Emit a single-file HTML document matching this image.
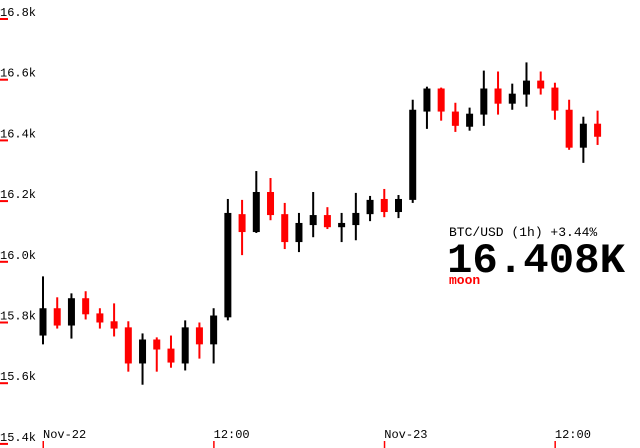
<!DOCTYPE html>
<html><head><meta charset="utf-8"><style>
html,body{margin:0;padding:0;background:#fff;}
svg{display:block;}
text{font-family:"Liberation Mono",monospace;}
</style></head><body>
<svg id="chart" width="640" height="448" viewBox="0 0 640 448" xmlns="http://www.w3.org/2000/svg">
<g id="yaxis"></g>
<g id="xaxis"></g>
<g id="candles"></g>
<text x="449" y="236" font-size="13" fill="#000">BTC/USD (1h) +3.44%</text>
<text x="447" y="272" font-size="42" font-weight="bold" fill="#000" textLength="178" lengthAdjust="spacingAndGlyphs">16.408K</text>
<text x="449" y="284" font-size="13" font-weight="bold" fill="#f00">moon</text>
</svg>
<script>
const opens  = [15757,15847,15790,15880,15830,15804,15784,15665,15744,15714,15665,15784,15728,15817,16157,16098,16230,16157,16065,16121,16154,16114,16121,16157,16207,16164,16204,16495,16571,16495,16445,16485,16571,16521,16551,16597,16574,16501,16376,16455];
const closes = [15847,15790,15880,15827,15800,15780,15665,15744,15711,15668,15784,15728,15823,16161,16098,16230,16154,16065,16128,16154,16114,16128,16161,16204,16164,16207,16501,16571,16495,16448,16488,16571,16521,16554,16597,16571,16498,16376,16455,16412];
const highs  = [15952,15883,15896,15903,15847,15863,15804,15764,15751,15757,15807,15800,15847,16207,16204,16299,16276,16194,16161,16230,16180,16161,16227,16217,16240,16220,16534,16577,16574,16524,16508,16630,16627,16587,16657,16627,16590,16534,16478,16498];
const lows   = [15728,15780,15747,15810,15780,15754,15638,15595,15638,15651,15642,15681,15665,15807,16022,16095,16137,16042,16032,16081,16108,16065,16071,16134,16147,16144,16194,16438,16465,16428,16432,16448,16485,16501,16511,16551,16468,16369,16326,16385];
const yTicks = [15400,15600,15800,16000,16200,16400,16600,16800];
const yTickLabels = ["15.4k","15.6k","15.8k","16.0k","16.2k","16.4k","16.6k","16.8k"];
const xTickIdx = [0,12,24,36];
const xTickLabels = ["Nov-22","12:00","Nov-23","12:00"];

const NS="http://www.w3.org/2000/svg";
function y(v){return 19+(16800-v)*0.3035;}
function x(i){return 43+i*14.22;}
function mk(tag,attrs,parent){const e=document.createElementNS(NS,tag);for(const k in attrs)e.setAttribute(k,attrs[k]);parent.appendChild(e);return e;}

const ya=document.getElementById('yaxis');
yTicks.forEach((v,i)=>{
  const t=mk('text',{x:0,y:y(v)-3,'font-size':12,fill:'#000'},ya);
  t.textContent=yTickLabels[i];
  
  
  const l=mk('rect',{x:0,y:y(v)-1,width:8,height:2,fill:'#f00'},ya);
  
  
});
const xa=document.getElementById('xaxis');
xTickIdx.forEach((idx,i)=>{
  const t=mk('text',{x:x(idx),y:438,'font-size':12,fill:'#000'},xa);
  t.textContent=xTickLabels[i];
  
  
  const l=mk('rect',{x:x(idx)-0.5,y:441,width:1.5,height:7,fill:'#f00'},xa);
  
  
});
const cg=document.getElementById('candles');
opens.forEach((o,i)=>{
  const c=closes[i],up=c>=o,col=up?'#000':'#f00';
  const g=mk('g',{},cg);
  
  
  mk('rect',{x:x(i)-1,y:y(highs[i]),width:2,height:y(lows[i])-y(highs[i]),fill:col},g);
  const top=y(Math.max(o,c)),bot=y(Math.min(o,c));
  mk('rect',{x:x(i)-3.5,y:top,width:7,height:Math.max(2,bot-top),fill:col},g);
});
</script>
</body></html>
